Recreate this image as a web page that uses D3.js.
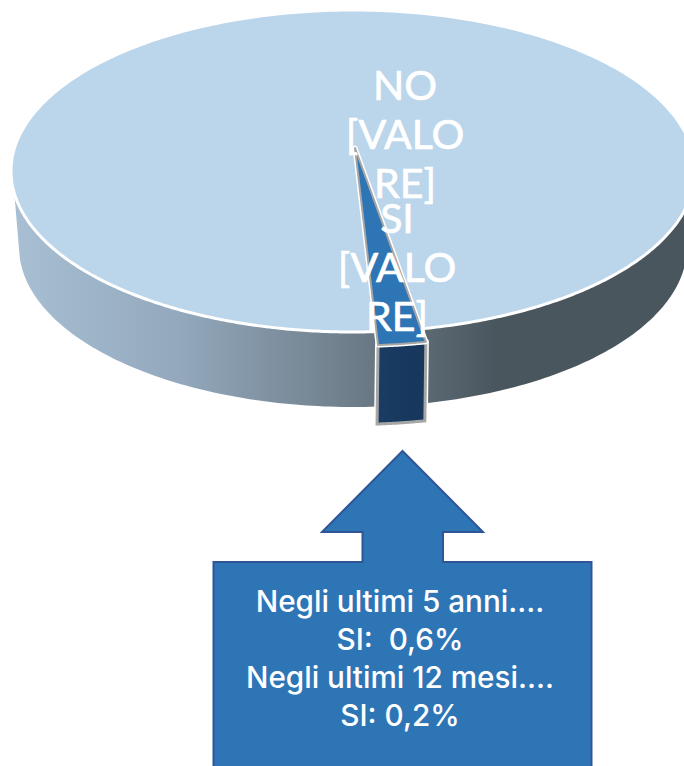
<!DOCTYPE html>
<html>
<head>
<meta charset="utf-8">
<script src="https://cdn.jsdelivr.net/npm/d3@7"></script>
<style>
html,body{margin:0;padding:0;background:#fff;overflow:hidden}
svg{display:block}
</style>
</head>
<body>
<svg id="chart" width="684" height="766"></svg>
<script>
// dati
var categories = ["SI", "NO"];
var values = [2.25, 97.75];
var labelLines = [["SI", "[VALO", "RE]"], ["NO", "[VALO", "RE]"]];
var boxLines = ["Negli ultimi 5 anni....", "SI:  0,6%", "Negli ultimi 12 mesi....", "SI: 0,2%"];

var svg = d3.select("#chart");

// geometria del disco
var cx = 353, cy = 171, rx = 342, ry = 161;
var lowCy = 247, lowRx = 334, lowRy = 160;
var depth = 79;
var sliceCy = 184.5;
var apex = [355, 148];
var startAngle = 167.7 * Math.PI / 180;

function pt(a, x0, y0, a1, b1) {
    return [x0 + a1 * Math.sin(a), y0 - b1 * Math.cos(a)];
}

var pie = d3.pie().sort(null).value(function(d){ return d; })
    .startAngle(startAngle).endAngle(startAngle + 2 * Math.PI);
var arcs = pie(values);
var si = arcs[0], no = arcs[1];

var defs = svg.append("defs");
var grad = defs.append("linearGradient").attr("id", "side")
    .attr("gradientUnits", "userSpaceOnUse")
    .attr("x1", 12).attr("x2", 684).attr("y1", 0).attr("y2", 0);
[[0, "#a8bfd4"], [0.25, "#93a8bc"], [0.48, "#72828f"], [0.72, "#4a565e"], [1, "#4a565e"]].forEach(function(s){
    grad.append("stop").attr("offset", s[0]).attr("stop-color", s[1]);
});
var frontGrad = defs.append("linearGradient").attr("id", "front");
[[0, "#1c3d63"], [0.5, "#17385f"], [1, "#17375c"]].forEach(function(s){
    frontGrad.append("stop").attr("offset", s[0]).attr("stop-color", s[1]);
});

var line = d3.line();

// fianco del cilindro
var sidePts = [];
d3.range(100, 263, 1).forEach(function(deg){
    sidePts.push(pt(deg * Math.PI / 180, cx, cy, rx, ry));
});
d3.range(266, 89, -1).forEach(function(deg){
    sidePts.push(pt(deg * Math.PI / 180, cx, lowCy, lowRx, lowRy));
});
svg.append("path").attr("d", line(sidePts) + "Z").attr("fill", "url(#side)");

// spicchio NO, faccia superiore
var noPts = [];
d3.range(no.startAngle, no.endAngle, 0.01).forEach(function(a){
    noPts.push(pt(a, cx, cy, rx, ry));
});
noPts.push(pt(no.endAngle, cx, cy, rx, ry));
svg.append("path").attr("d", line(noPts) + "Z")
    .attr("fill", "#bbd5eb").attr("stroke", "#fff").attr("stroke-width", 3);

// spicchio SI: faccia frontale e faccia superiore
var arcPts = [];
d3.range(si.startAngle, si.endAngle, 0.005).forEach(function(a){
    arcPts.push(pt(a, cx, sliceCy, rx, ry));
});
arcPts.push(pt(si.endAngle, cx, sliceCy, rx, ry));

var frontPts = arcPts.concat(arcPts.slice().reverse().map(function(p){ return [p[0] - 1, p[1] + depth]; }));
svg.append("path").attr("d", line(frontPts) + "Z")
    .attr("fill", "none").attr("stroke", "#fff").attr("stroke-width", 6).attr("stroke-linejoin", "round");
svg.append("path").attr("d", line(frontPts) + "Z")
    .attr("fill", "url(#front)").attr("stroke", "#a6a6a6").attr("stroke-width", 3);

var topPts = [apex].concat(arcPts);
svg.append("path").attr("d", line(topPts) + "Z")
    .attr("fill", "none").attr("stroke", "#fff").attr("stroke-width", 5).attr("stroke-linejoin", "round");
svg.append("path").attr("d", line(topPts) + "Z")
    .attr("fill", "#2e75b6").attr("stroke", "#a6a6a6").attr("stroke-width", 2).attr("stroke-linejoin", "round");

// etichette dei dati
var labelPos = { "NO": [405, 100], "SI": [397, 233] };
var labelFont = "Lato, sans-serif";
categories.forEach(function(c, i){
    var t = svg.append("text").attr("text-anchor", "middle").attr("fill", "#fff")
        .attr("stroke", "#fff").attr("stroke-width", 0.7)
        .attr("font-family", labelFont).attr("font-size", 41);
    labelLines[i].forEach(function(s, j){
        t.append("tspan").attr("x", labelPos[c][0]).attr("y", labelPos[c][1] + j * 49).text(s);
    });
});

// freccia con testo
var bx0 = 213.5, bx1 = 591.5, by0 = 562, sx0 = 362.5, sx1 = 443, hy = 532, hx0 = 322, hx1 = 483, tipX = 402.5, tipY = 451;
svg.append("path")
    .attr("d", line([[bx0, 790], [bx0, by0], [sx0, by0], [sx0, hy], [hx0, hy], [tipX, tipY], [hx1, hy], [sx1, hy], [sx1, by0], [bx1, by0], [bx1, 790]]) + "Z")
    .attr("fill", "#2e75b6").attr("stroke", "#2f5597").attr("stroke-width", 2);

var boxY = d3.scalePoint().domain(d3.range(boxLines.length)).range([612, 726]);
svg.selectAll(".box-line").data(boxLines).enter().append("text")
    .attr("class", "box-line")
    .attr("x", 400).attr("y", function(d, i){ return boxY(i); })
    .attr("text-anchor", "middle").attr("fill", "#fff")
    .attr("font-family", "Inter, sans-serif").attr("font-size", 29.7).attr("font-weight", 500)
    .style("white-space", "pre")
    .text(function(d){ return d; });
</script>
</body>
</html>
